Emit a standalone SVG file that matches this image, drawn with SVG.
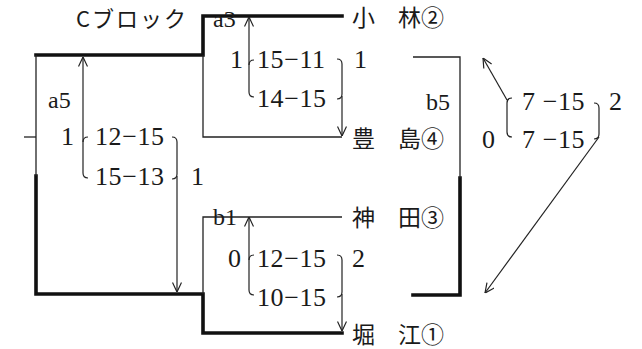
<svg xmlns="http://www.w3.org/2000/svg" width="642" height="349" viewBox="0 0 642 349">
<defs>
<marker id="ah" viewBox="0 0 10 10" refX="10" refY="5" markerWidth="10" markerHeight="10" markerUnits="userSpaceOnUse" orient="auto">
<path d="M0.5,0.5 L10,5 L0.5,9.5" fill="none" stroke="#222" stroke-width="1.2"/>
</marker>
<style>
.thick{fill:none;stroke:#111;stroke-width:3.6;stroke-linejoin:miter;stroke-linecap:square}
.thin{fill:none;stroke:#222;stroke-width:1.3}
.arr{fill:none;stroke:#222;stroke-width:1.2;marker-end:url(#ah)}
.br{fill:none;stroke:#222;stroke-width:1.2}
.name{font-family:"Noto Sans CJK JP","Noto Sans CJK SC",sans-serif;font-size:23px;fill:#1a1a1a}
.title{font-family:"Noto Sans CJK JP","Noto Sans CJK SC",sans-serif;font-size:22px;letter-spacing:2px;fill:#1a1a1a}
.sc{font-family:"Liberation Serif","DejaVu Serif",serif;font-size:26px;letter-spacing:0.6px;fill:#1a1a1a}
.lb{font-family:"Liberation Serif","DejaVu Serif",serif;font-size:24px;fill:#1a1a1a}
</style>
</defs>
<rect width="642" height="349" fill="#fff"/>

<g id="title"><text class="title" x="76" y="27">Cブロック</text></g>

<g id="connectors">
<path class="thick" d="M36,55 H203 V16 H342"/>
<path class="thick" d="M36,176 V294 H203 V333 H342"/>
<path class="thick" d="M413,295 H460 V178"/>
<path class="thin" d="M36,55 V176"/>
<path class="thin" d="M24,137 H36"/>
<path class="thin" d="M203,55 V137 H342"/>
<path class="thin" d="M203,294 V217 H342"/>
<path class="thin" d="M413,57 H460 V178"/>
<!-- a5 -->
<path class="br" d="M88,137 Q83,137 83,142 V173 Q83,178 88,178"/>
<path class="arr" d="M83,142 V57"/>
<path class="br" d="M172,137 Q177,137 177,142 V174 Q177,179 172,179"/>
<path class="arr" d="M177,176 V292"/>
<!-- a3 -->
<path class="br" d="M254,60 Q249,60 249,65 V92 Q249,97 254,97"/>
<path class="arr" d="M249,65 V17"/>
<path class="br" d="M337,59 Q342,59 342,64 V94 Q342,99 337,99"/>
<path class="arr" d="M342,96 V136"/>
<!-- b1 -->
<path class="br" d="M254,255 Q249,255 249,260 V290 Q249,295 254,295"/>
<path class="arr" d="M249,260 V217"/>
<path class="br" d="M337,255 Q342,255 342,260 V292 Q342,297 337,297"/>
<path class="arr" d="M342,294 V331"/>
<!-- b5 -->
<path class="br" d="M512,98 Q507,98 507,103 V132 Q507,137 512,137"/>
<path class="arr" d="M507,100 L483,58"/>
<path class="br" d="M594,103 Q599,103 599,108 V134 Q599,139 594,139"/>
<path class="arr" d="M599,137 L485,293"/>
</g>

<g id="player-kobayashi"><text class="name" x="352" y="26">小　林②</text></g>
<g id="player-toyoshima"><text class="name" x="352" y="147">豊　島④</text></g>
<g id="player-kanda"><text class="name" x="352" y="226">神　田③</text></g>
<g id="player-horie"><text class="name" x="352" y="343">堀　江①</text></g>

<g id="match-a5">
<text class="lb" x="48" y="108">a5</text>
<text class="sc" x="61" y="145">1</text>
<text class="sc" x="95" y="145">12−15</text>
<text class="sc" x="95" y="185">15−13</text>
<text class="sc" x="191" y="185">1</text>
</g>
<g id="match-a3">
<text class="lb" x="213" y="27">a3</text>
<text class="sc" x="230" y="68">1</text>
<text class="sc" x="257" y="68">15−11</text>
<text class="sc" x="257" y="107">14−15</text>
<text class="sc" x="354" y="68">1</text>
</g>
<g id="match-b1">
<text class="lb" x="213" y="225">b1</text>
<text class="sc" x="228" y="267">0</text>
<text class="sc" x="257" y="267">12−15</text>
<text class="sc" x="257" y="306">10−15</text>
<text class="sc" x="352" y="267">2</text>
</g>
<g id="match-b5">
<text class="lb" x="426" y="110">b5</text>
<text class="sc" x="482" y="148">0</text>
<text class="sc" x="522" y="110">7 −15</text>
<text class="sc" x="522" y="148">7 −15</text>
<text class="sc" x="609" y="110">2</text>
</g>
</svg>
